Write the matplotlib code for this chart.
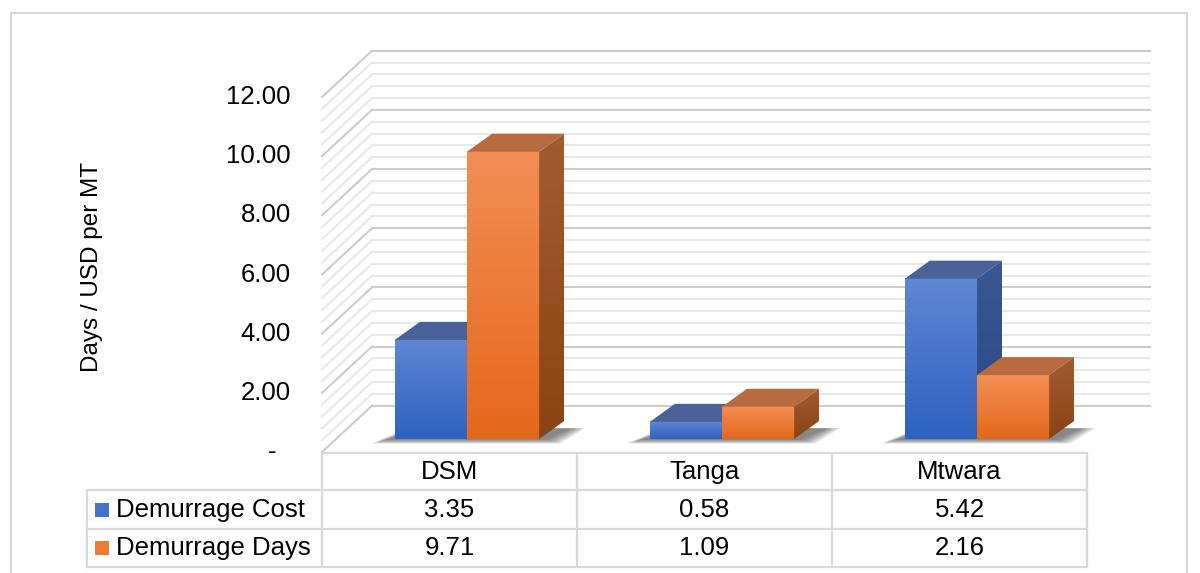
import numpy as np
import matplotlib.pyplot as plt
from matplotlib import transforms
from matplotlib.patches import Polygon
from matplotlib.colors import LinearSegmentedColormap

plt.rcParams['font.family'] = ['Liberation Sans', 'DejaVu Sans']

# data
categories = ['DSM', 'Tanga', 'Mtwara']
series_names = ['Demurrage Cost', 'Demurrage Days']
demurrage_cost = [3.35, 0.58, 5.42]
demurrage_days = [9.71, 1.09, 2.16]
y_ticks = [0, 2, 4, 6, 8, 10, 12]
series = [demurrage_cost, demurrage_days]

# colours: (front bottom, front top), top face, (side bottom, side top), legend
front_cols = [('#2d61c0', '#5f87d3'), ('#e4681a', '#f38e55')]
top_cols = ['#4a6299', '#b86a40']
side_cols = [('#284887', '#3a5891'), ('#8a4414', '#a35a31')]
legend_cols = ['#4472c4', '#ed7d31']

FS = 18.5
W, H = 1200, 573
fig = plt.figure(figsize=(12, 5.73), dpi=100)

# front plane of the 3d box
ax = fig.add_axes([322 / W, (H - 452) / H, 765 / W, 355 / H])
ax.axis('off')
PX_X = 765 / 3
PX_Y = 355 / 12


def d(px, py):
    return px / PX_X, py / PX_Y


wall_dx, wall_dy = d(50, 46.3)
back_right = 3 + d(63, 0)[0]
bar_fx, bar_fy = d(17.5, 13)
bar_dx, bar_dy = d(25, 18)
bar_w = 0.283

# back wall + side wall gridlines
for k in range(31):
    v = k * 0.4
    c = '#cccccc' if k % 5 == 0 else '#e8e8e8'
    ax.plot([wall_dx, back_right], [v + wall_dy] * 2, color=c, lw=1.5,
            clip_on=False, zorder=1)
    ax.plot([0, wall_dx], [v, v + wall_dy], color=c, lw=1.5,
            clip_on=False, zorder=1)

# soft shadows under each pair of bars
for i in range(len(categories)):
    fx0 = i + 0.5 - bar_w + bar_fx
    fx1 = fx0 + 2 * bar_w
    for e in range(7):
        ex = d(4 + e * 2.2, 0)[0]
        ey = d(0, 1 + e * 0.6)[1]
        sx = d(4, 0)[0]
        pts = [(fx0 - ex - d(10, 0)[0] + sx, bar_fy - ey),
               (fx1 + ex + sx, bar_fy - ey),
               (fx1 + bar_dx + ex + sx, bar_fy + bar_dy * 0.6),
               (fx0 + bar_dx - ex + sx, bar_fy + bar_dy * 0.6)]
        ax.add_patch(Polygon(pts, closed=True, color='#252525', alpha=0.1,
                             lw=0, clip_on=False, zorder=2))

# bars
grad = np.linspace(1, 0, 200).reshape(-1, 1)
z = 3
for i in range(len(categories)):
    for s, vals in enumerate(series):
        v = vals[i]
        x0 = i + 0.5 - bar_w + s * bar_w + bar_fx
        x1 = x0 + bar_w
        y0 = bar_fy
        y1 = bar_fy + v
        cm_front = LinearSegmentedColormap.from_list('f', front_cols[s])
        cm_side = LinearSegmentedColormap.from_list('s', side_cols[s])

        im = ax.imshow(grad, extent=[x0, x1, y0, y1], cmap=cm_front,
                       aspect='auto', origin='upper', zorder=z,
                       interpolation='bilinear')
        im.set_clip_on(False)

        top = Polygon([(x0, y1), (x1, y1), (x1 + bar_dx, y1 + bar_dy),
                       (x0 + bar_dx, y1 + bar_dy)], closed=True,
                      facecolor=top_cols[s], edgecolor='none',
                      clip_on=False, zorder=z)
        ax.add_patch(top)

        side = Polygon([(x1, y0), (x1 + bar_dx, y0 + bar_dy),
                        (x1 + bar_dx, y1 + bar_dy), (x1, y1)], closed=True,
                       facecolor='none', edgecolor='none', clip_on=False,
                       zorder=z)
        ax.add_patch(side)
        im2 = ax.imshow(grad, extent=[x1, x1 + bar_dx, y0, y1 + bar_dy],
                        cmap=cm_side, aspect='auto', origin='upper',
                        zorder=z, interpolation='bilinear')
        im2.set_clip_path(side)
        z += 1

ax.set_xlim(0, 3)
ax.set_ylim(0, 12)

# y tick labels on the front edge
for v in y_ticks:
    if v == 0:
        ax.text(d(-50, 0)[0], v, '-', ha='center', va='center', fontsize=FS,
                clip_on=False)
    else:
        ax.text(d(-31, 0)[0], v, f'{v:.2f}', ha='right', va='center',
                fontsize=FS, clip_on=False)

fig.text(92 / W, 1 - 267 / H, 'Days / USD per MT', rotation=90,
         ha='center', va='center', fontsize=17.5)

# data table below the plot
fig_px = transforms.Affine2D().scale(1 / W, -1 / H).translate(0, 1) + fig.transFigure
tb = transforms.blended_transform_factory(ax.transData, fig_px)
tcol = '#d9d9d9'
leg_left = d(-235, 0)[0]
ax.plot([0, 3], [453, 453], color=tcol, lw=1.6, transform=tb, clip_on=False)
for yy in [490, 529, 567]:
    ax.plot([leg_left, 3], [yy, yy], color=tcol, lw=1.6, transform=tb,
            clip_on=False)
for xx in range(4):
    ax.plot([xx, xx], [453, 567], color=tcol, lw=1.6, transform=tb,
            clip_on=False)
ax.plot([leg_left, leg_left], [490, 567], color=tcol, lw=1.6, transform=tb,
        clip_on=False)

row_y = [510, 548]
for i, cat in enumerate(categories):
    ax.text(i + 0.5, 472, cat, ha='center', va='center', fontsize=FS,
            transform=tb, clip_on=False)
    for s, vals in enumerate(series):
        ax.text(i + 0.5, row_y[s], f'{vals[i]:.2f}', ha='center',
                va='center', fontsize=FS, transform=tb, clip_on=False)

for s, name in enumerate(series_names):
    ax.plot([d(-220, 0)[0]], [row_y[s]], marker='s', ms=9.8, mew=0,
            color=legend_cols[s], transform=tb, clip_on=False)
    ax.text(d(-206, 0)[0], row_y[s], name, ha='left', va='center',
            fontsize=FS, transform=tb, clip_on=False)

# chart area border
for xs, ys in [([11, 11], [13, 573]), ([11, 1187], [13, 13]),
               ([1187, 1187], [13, 573])]:
    fig.add_artist(plt.Line2D(xs, ys, color='#d9d9d9', lw=1.5,
                              transform=fig_px))

fig.savefig('out.png', dpi=100)
